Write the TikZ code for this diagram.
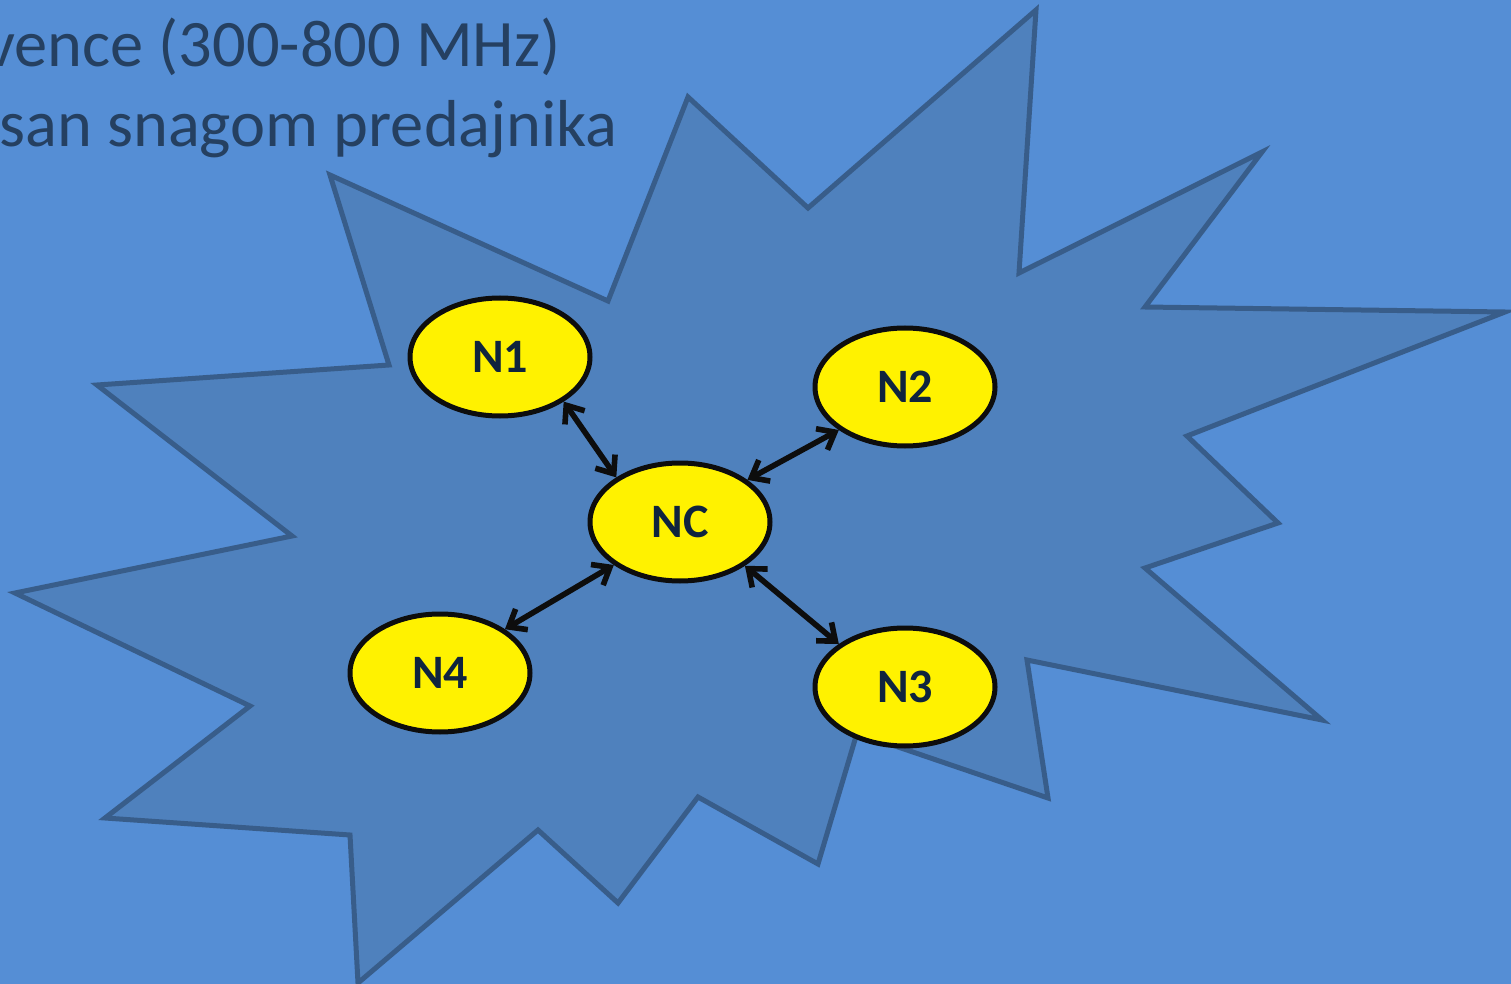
\documentclass[tikz,border=0pt]{standalone}
\usepackage{fontspec}
\setmainfont{Carlito}
\usetikzlibrary{arrows.meta,shapes.geometric}
\definecolor{bg}{HTML}{558ED5}
\definecolor{starfill}{HTML}{4F81BD}
\definecolor{starline}{HTML}{385D8A}
\definecolor{titletext}{HTML}{254061}
\definecolor{nodetext}{HTML}{0F243E}
\begin{document}
\begin{tikzpicture}[x=0.5pt,y=-0.5pt,
  station/.style={ellipse, draw=black!95, line width=2.5pt, fill=yellow, minimum width=90pt, minimum height=59pt, inner sep=0pt, font=\fontsize{24}{28}\selectfont\bfseries, text=nodetext},
  link/.style={line width=2.8pt, draw=black!95, {Straight Barb[length=7.5pt,width=12pt]}-{Straight Barb[length=7.5pt,width=12pt]}},
  title/.style={font=\fontsize{33.2}{40}\selectfont, text=titletext, inner sep=0pt, anchor=base east}]
\useasboundingbox (0,0) rectangle (1511,984);
\clip (0,0) rectangle (1511,984);
\fill[bg] (0,0) rectangle (1511,984);
\node[title] (t1) at (561,67) {vence (300-800 MHz)};
\node[title] (t2) at (618,147) {san snagom predajnika};
\filldraw[fill=starfill, draw=starline, line width=2.5pt, line join=miter]
  (330,175) -- (608,301) -- (688,97) -- (808,208) -- (1036,10) -- (1019,273)
  -- (1262,152) -- (1145,307) -- (1505,312) -- (1187,436) -- (1278,523)
  -- (1145,568) -- (1322,720) -- (1027,660) -- (1048,798) -- (857,733)
  -- (818,864) -- (698,797) -- (618,903) -- (538,830) -- (358,983)
  -- (350,835) -- (105,818) -- (250,706) -- (15,593) -- (292,536)
  -- (97,385) -- (389,365) -- cycle;
\node[station] (N1) at (500,357) {N1};
\node[station] (NC) at (680,522) {NC};
\node[station] (N2) at (905,387) {N2};
\node[station] (N4) at (440,673) {N4};
\node[station] (N3) at (905,687) {N3};
\draw[link] (N1.-35) -- (NC.145);
\draw[link] (NC.32) -- (N2.213);
\draw[link] (NC.213) -- (N4.34);
\draw[link] (NC.-34) -- (N3.147);
\end{tikzpicture}
\end{document}
